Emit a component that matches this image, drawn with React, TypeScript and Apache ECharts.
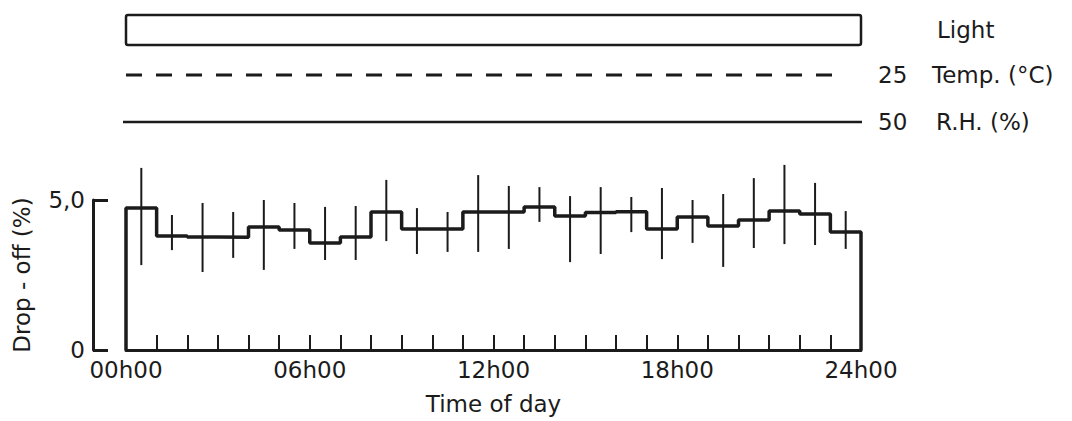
import React, { useEffect, useRef } from "react";
import * as echarts from "echarts";

// ---- data ----
const hourStart = [0, 1, 2, 3, 4, 5, 6, 7, 8, 9, 10, 11, 12, 13, 14, 15, 16, 17, 18, 19, 20, 21, 22, 23];
const dropOff = [4.73, 3.8, 3.77, 3.76, 4.1, 4.0, 3.57, 3.77, 4.6, 4.03, 4.03, 4.6, 4.6, 4.77, 4.47, 4.58, 4.61, 4.03, 4.43, 4.13, 4.33, 4.63, 4.53, 3.93];
const errHigh = [6.07, 4.5, 4.9, 4.6, 5.0, 4.9, 4.77, 4.8, 5.67, 4.73, 4.6, 5.83, 5.47, 5.43, 5.13, 5.43, 5.1, 5.4, 5.0, 5.2, 5.73, 6.17, 5.57, 4.63];
const errLow = [2.83, 3.33, 2.6, 3.07, 2.67, 3.37, 3.0, 3.0, 3.63, 3.2, 3.27, 3.27, 3.37, 4.27, 2.93, 3.2, 3.93, 3.03, 3.57, 2.77, 3.4, 3.53, 3.5, 3.37];
const xLabelHours = [0, 6, 12, 18, 24];
const xLabels = ["00h00", "06h00", "12h00", "18h00", "24h00"];
const yLabelValues = [0, 5];
const yLabels = ["0", "5,0"];
const lightPeriod = [0, 24];
const tempValue = "25";
const rhValue = "50";

const INK = "#1b1b1b";
const FONT = "DejaVu Sans";
const FS = 23;

const GRID_LEFT = 126;
const GRID_W = 735;
const xPix = (h: number) => GRID_LEFT + (h / 24) * GRID_W;

export default function App() {
  const ref = useRef<HTMLDivElement>(null);
  useEffect(() => {
    document.body.style.margin = "0";
    const chart = echarts.init(ref.current!, null, { renderer: "svg" });

    const stepData: number[][] = [[hourStart[0], 0]];
    hourStart.forEach((h, i) => stepData.push([h, dropOff[i]]));
    stepData.push([24, dropOff[dropOff.length - 1]]);
    stepData.push([24, 0]);

    const txt = (text: string, x: number, y: number) => ({
      type: "text",
      x,
      y,
      style: { text, fill: INK, fontSize: FS, fontFamily: FONT, verticalAlign: "middle", align: "left" },
    });

    const option: any = {
      animation: false,
      backgroundColor: "#ffffff",
      textStyle: { fontFamily: FONT, color: INK },
      grid: { left: GRID_LEFT, width: GRID_W, top: 200, height: 150 },
      xAxis: {
        type: "value",
        min: 0,
        max: 24,
        interval: 1,
        axisLine: { onZero: false, lineStyle: { color: INK, width: 3 } },
        axisTick: { inside: true, length: 15, lineStyle: { color: INK, width: 2 } },
        axisLabel: {
          formatter: (v: number) => {
            const i = xLabelHours.indexOf(v);
            return i >= 0 ? xLabels[i] : "";
          },
          fontSize: FS,
          fontFamily: FONT,
          color: INK,
          margin: 8,
        },
        splitLine: { show: false },
        name: "Time of day",
        nameLocation: "middle",
        nameGap: 42,
        nameTextStyle: { fontSize: FS, fontFamily: FONT, color: INK },
      },
      yAxis: {
        type: "value",
        min: 0,
        max: 5,
        interval: 5,
        offset: 33,
        axisLine: { show: true, onZero: false, lineStyle: { color: INK, width: 3 } },
        axisTick: { show: true, inside: true, length: 15, lineStyle: { color: INK, width: 3 } },
        axisLabel: {
          formatter: (v: number) => {
            const i = yLabelValues.indexOf(v);
            return i >= 0 ? yLabels[i] : "";
          },
          fontSize: FS,
          fontFamily: FONT,
          color: INK,
          margin: 8,
        },
        splitLine: { show: false },
        name: "Drop - off (%)",
        nameLocation: "middle",
        nameRotate: 90,
        nameGap: 60,
        nameTextStyle: { fontSize: FS, fontFamily: FONT, color: INK },
      },
      series: [
        {
          type: "line",
          step: "end",
          data: stepData,
          showSymbol: false,
          lineStyle: { color: INK, width: 3.5 },
          z: 3,
        },
        {
          type: "custom",
          clip: false,
          data: hourStart.map((h, i) => [h + 0.5, errLow[i], errHigh[i]]),
          encode: { x: 0, y: [1, 2] },
          renderItem: (_params: any, api: any) => {
            const p1 = api.coord([api.value(0), api.value(1)]);
            const p2 = api.coord([api.value(0), api.value(2)]);
            return {
              type: "line",
              shape: { x1: p1[0], y1: p1[1], x2: p2[0], y2: p2[1] },
              style: { stroke: INK, lineWidth: 2 },
            };
          },
          z: 4,
        },
      ],
      graphic: [
        {
          type: "rect",
          shape: { x: xPix(lightPeriod[0]), y: 15, width: xPix(lightPeriod[1]) - xPix(lightPeriod[0]), height: 30, r: 2 },
          style: { fill: "none", stroke: INK, lineWidth: 2.5 },
        },
        {
          type: "line",
          shape: { x1: xPix(0), y1: 75, x2: 845, y2: 75 },
          style: { stroke: INK, lineWidth: 3, lineDash: [16, 14] },
        },
        {
          type: "line",
          shape: { x1: xPix(0) - 3, y1: 122, x2: 862, y2: 122 },
          style: { stroke: INK, lineWidth: 2.5 },
        },
        txt("Light", 937, 30),
        txt(tempValue, 878, 75),
        txt("Temp. (°C)", 932, 75),
        txt(rhValue, 878, 122),
        txt("R.H. (%)", 936, 122),
      ],
    };

    chart.setOption(option);
    return () => chart.dispose();
  }, []);
  return <div ref={ref} style={{ width: 1072, height: 421 }} />;
}
